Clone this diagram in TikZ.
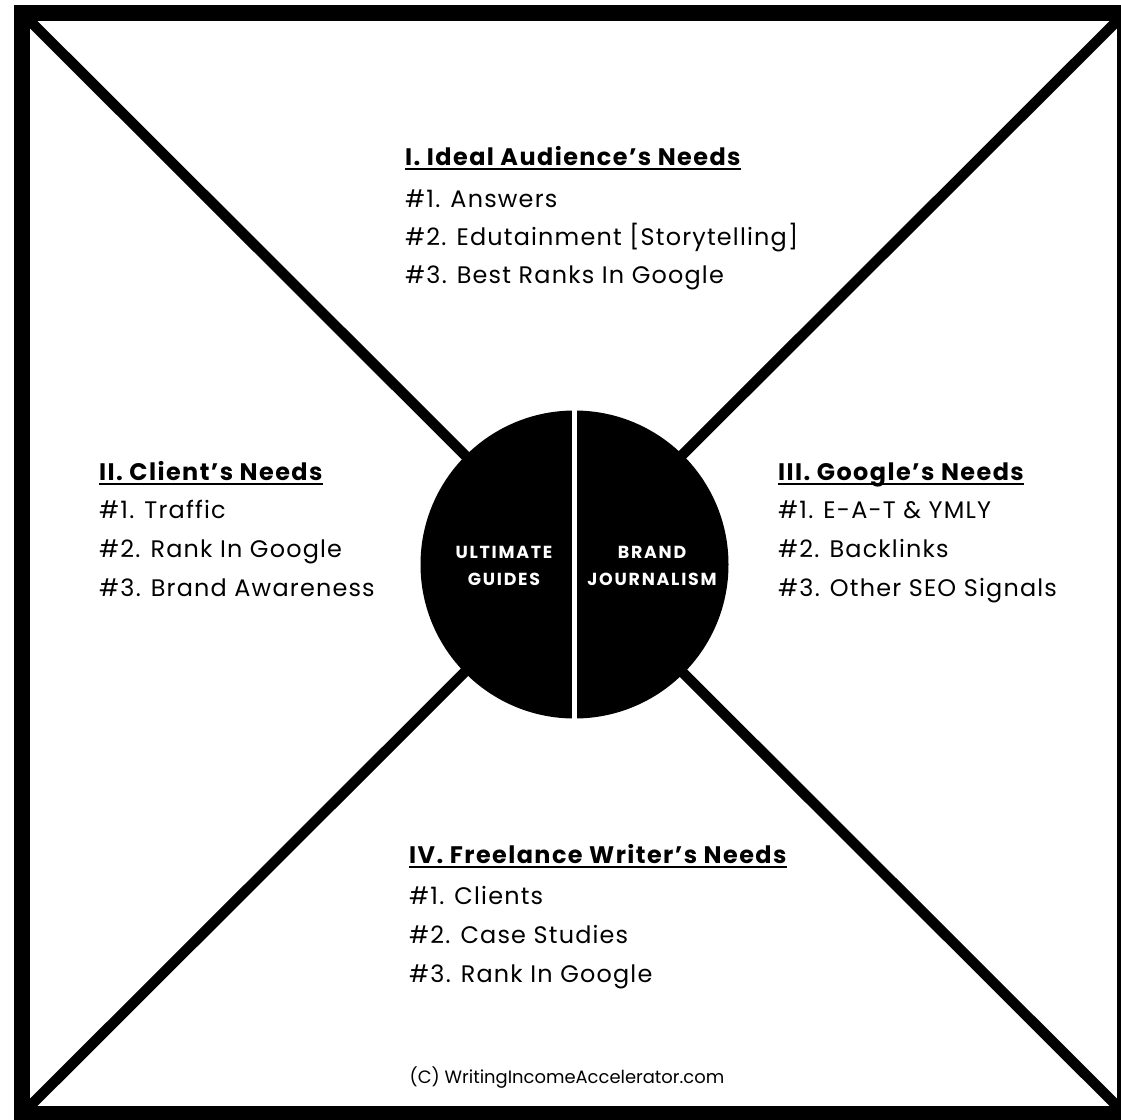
\documentclass[tikz,border=0pt]{standalone}
\usepackage{fontspec}
\setmainfont{Poppins}
\usetikzlibrary{calc}
\begin{document}
\begin{tikzpicture}[x=1bp,y=-1bp,
  head/.style={anchor=base west, inner sep=0pt,
    font=\fontsize{24}{24}\selectfont\bfseries\addfontfeature{LetterSpace=6}},
  item/.style={anchor=base west, inner sep=0pt,
    font=\fontsize{24}{24}\selectfont\addfontfeature{LetterSpace=5}},
  uline/.style={line width=2bp},
  hub/.style={circle, fill=black, minimum size=308bp, inner sep=0pt},
  hubtext/.style={text=white, align=center, inner sep=0pt,
    font=\fontsize{17.5}{27}\selectfont\bfseries\addfontfeature{LetterSpace=10}},
  foot/.style={anchor=base, inner sep=0pt, font=\fontsize{18}{18}\selectfont}]
\useasboundingbox (0,0) rectangle (1121,1120);
\clip (0,0) rectangle (1121,1120);

% corner points of the frame
\coordinate (tl) at (22,13);
\coordinate (tr) at (1125,13);
\coordinate (br) at (1125,1114);
\coordinate (bl) at (22,1114);

% the two diagonals
\draw[line width=10.5bp] (tl) -- (br);
\draw[line width=10.5bp] (tr) -- (bl);

% outer frame
\draw[line width=16bp] (tl) rectangle (br);

% central disc split in two halves
\node[hub] (hub) at (574.5,564.5) {};
\draw[white, line width=5bp] (hub.north) -- (hub.south);
\node[hubtext] (guides) at (504,566) {ULTIMATE\\GUIDES};
\node[hubtext] (brand) at (652,566) {BRAND\\JOURNALISM};

% quadrant I (top)
\node[head] (h1) at (405,165) {I. Ideal Audience’s Needs};
\draw[uline] ($(h1.base west)+(0,4)$) -- ($(h1.base east)+(0,4)$);
\node[item] (a1) at (405,207) {\#1. Answers};
\node[item] (a2) at (405,245) {\#2. Edutainment [Storytelling]};
\node[item] (a3) at (405,283) {\#3. Best Ranks In Google};

% quadrant II (left)
\node[head] (h2) at (99,480) {II. Client’s Needs};
\draw[uline] ($(h2.base west)+(0,4)$) -- ($(h2.base east)+(0,4)$);
\node[item] (b1) at (99,518) {\#1. Traffic};
\node[item] (b2) at (99,557) {\#2. Rank In Google};
\node[item] (b3) at (99,596) {\#3. Brand Awareness};

% quadrant III (right)
\node[head] (h3) at (778,480) {III. Google’s Needs};
\draw[uline] ($(h3.base west)+(0,4)$) -- ($(h3.base east)+(0,4)$);
\node[item] (c1) at (778,518) {\#1. E-A-T \& YMLY};
\node[item] (c2) at (778,557) {\#2. Backlinks};
\node[item] (c3) at (778,596) {\#3. Other SEO Signals};

% quadrant IV (bottom)
\node[head] (h4) at (409,863) {IV. Freelance Writer’s Needs};
\draw[uline] ($(h4.base west)+(0,4)$) -- ($(h4.base east)+(0,4)$);
\node[item] (d1) at (409,904) {\#1. Clients};
\node[item] (d2) at (409,943) {\#2. Case Studies};
\node[item] (d3) at (409,982) {\#3. Rank In Google};

% credit line
\node[foot] (credit) at (567,1083) {(C) WritingIncomeAccelerator.com};
\end{tikzpicture}
\end{document}
